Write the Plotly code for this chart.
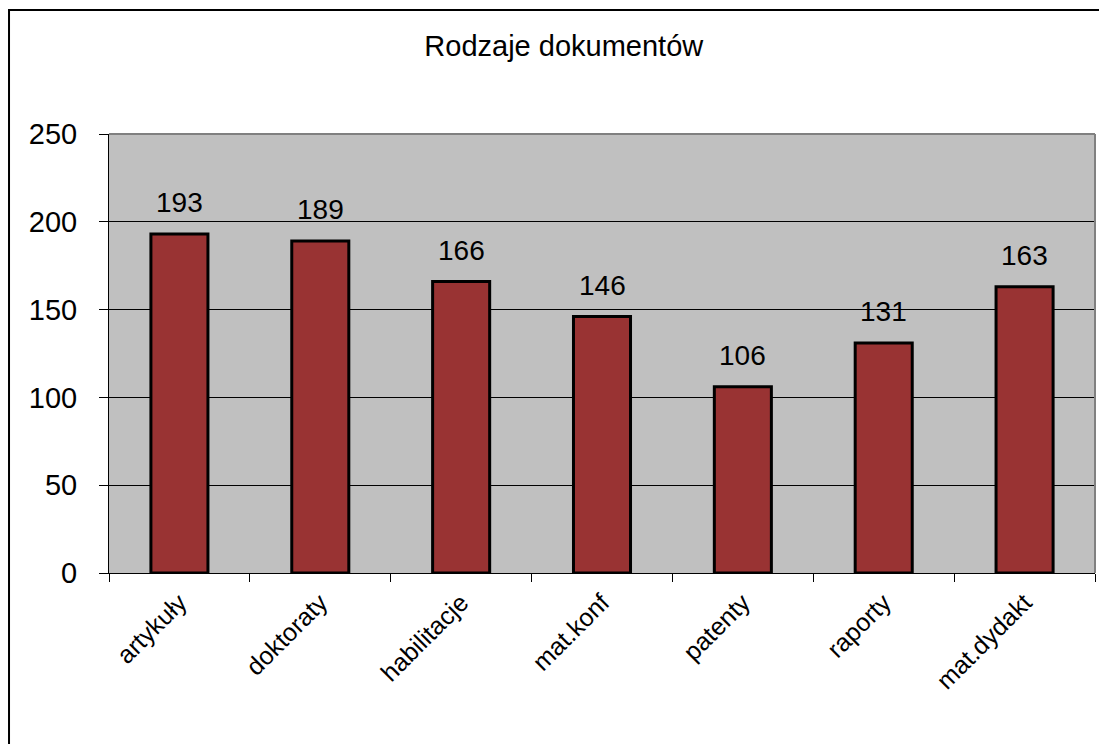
import plotly.graph_objects as go

categories = ["artykuły", "doktoraty", "habilitacje", "mat.konf", "patenty", "raporty", "mat.dydakt"]
counts = [193, 189, 166, 146, 106, 131, 163]
y_ticks = [0, 50, 100, 150, 200, 250]

font = "Liberation Sans, Arial, sans-serif"

fig = go.Figure()
fig.add_trace(go.Bar(
    x=categories, y=counts, width=0.405,
    marker=dict(color="#993333", line=dict(color="black", width=3)),
    showlegend=False, hoverinfo="x+y",
))

# value labels above the bars
for c, v in zip(categories, counts):
    fig.add_annotation(x=c, y=v, text=str(v), showarrow=False,
                       yanchor="bottom", yshift=14,
                       font=dict(family=font, size=28, color="black"))

# grey frame on top/right of the plot area
fig.add_shape(type="line", xref="paper", yref="paper", x0=0, x1=1, y0=1, y1=1,
              line=dict(color="#808080", width=2))
fig.add_shape(type="line", xref="paper", yref="paper", x0=1, x1=1, y0=0, y1=1,
              line=dict(color="#808080", width=2))
# outer chart border
fig.add_shape(type="rect", xref="paper", yref="paper",
              x0=-0.1014, x1=1.2, y0=-0.6, y1=1.2825,
              line=dict(color="black", width=2))

fig.update_layout(
    width=1099, height=744,
    margin=dict(l=109, r=4, t=134, b=171),
    paper_bgcolor="white", plot_bgcolor="#C0C0C0",
    font=dict(family=font, color="black"),
    title=dict(text="Rodzaje dokumentów", x=0.513, xanchor="center",
               y=1 - 46 / 744, yanchor="middle", yref="container",
               font=dict(family=font, size=29, color="black")),
    bargap=0.6,
)
fig.update_xaxes(
    type="category", showgrid=False, showline=True, linecolor="black", linewidth=1,
    ticks="outside", tickson="boundaries", ticklen=8, tickcolor="black",
    tickangle=-45, tickfont=dict(family=font, size=25, color="black"),
    ticklabelstandoff=4,
)
fig.update_yaxes(
    range=[0, 250], tickvals=y_ticks, showgrid=True, gridcolor="black", gridwidth=1,
    showline=True, linecolor="black", linewidth=1, zeroline=False,
    ticks="outside", ticklen=9, tickcolor="black", ticklabelstandoff=16,
    tickfont=dict(family=font, size=29, color="black"),
)

fig.write_html("out.html", config={"displayModeBar": False},
               post_script="document.body.style.margin='0';document.body.style.overflow='hidden';")
